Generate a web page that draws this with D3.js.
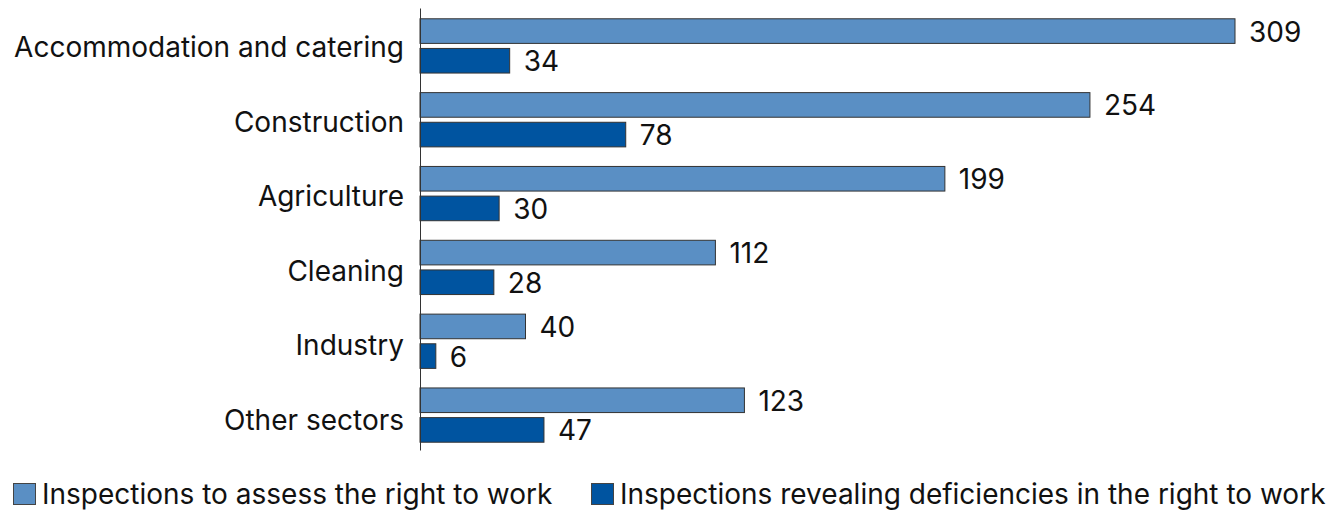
<!DOCTYPE html>
<html>
<head>
<meta charset="utf-8">
<script src="https://cdn.jsdelivr.net/npm/d3@7"></script>
<style>
  html, body { margin: 0; padding: 0; background: #fff; }
  svg { display: block; }
  text { font-family: Inter, "Noto Sans", sans-serif; fill: #111; }
</style>
</head>
<body>
<svg id="chart" width="1338" height="511"></svg>
<script>
const categories = ["Accommodation and catering", "Construction", "Agriculture", "Cleaning", "Industry", "Other sectors"];
const seriesNames = ["Inspections to assess the right to work", "Inspections revealing deficiencies in the right to work"];
const assessed = [309, 254, 199, 112, 40, 123];
const deficiencies = [34, 78, 30, 28, 6, 47];
const seriesColors = ["#5a8fc4", "#0054a0"];

const svg = d3.select("#chart");
const fontSize = 28;

const x = d3.scaleLinear().domain([0, 309]).range([420, 1235]);
const y0 = d3.scaleBand().domain(categories).range([9, 452]);
const y1 = d3.scaleBand().domain([0, 1]).range([0, y0.bandwidth()]).paddingInner(0.17).paddingOuter(0.33);
const labelY = d3.scalePoint().domain(categories).range([57, 430]);

const rows = categories.map((c, i) => ({ cat: c, vals: [assessed[i], deficiencies[i]] }));

const g = svg.append("g");
const groups = g.selectAll("g.cat").data(rows).join("g")
  .attr("class", "cat")
  .attr("transform", d => `translate(0,${y0(d.cat)})`);

groups.selectAll("rect").data(d => d.vals.map((v, k) => ({ v, k }))).join("rect")
  .attr("x", x(0))
  .attr("y", d => y1(d.k))
  .attr("width", d => x(d.v) - x(0))
  .attr("height", y1.bandwidth())
  .attr("fill", d => seriesColors[d.k])
  .attr("stroke", "#333")
  .attr("stroke-width", 1);

groups.selectAll("text.val").data(d => d.vals.map((v, k) => ({ v, k }))).join("text")
  .attr("class", "val")
  .attr("x", d => x(d.v) + 14)
  .attr("y", d => y1(d.k) + y1.bandwidth() / 2 + 10.5)
  .attr("font-size", fontSize)
  .text(d => d.v);

// category labels
g.selectAll("text.cat").data(categories).join("text")
  .attr("class", "cat")
  .attr("x", 404)
  .attr("y", d => labelY(d))
  .attr("text-anchor", "end")
  .attr("font-size", fontSize)
  .text(d => d);

// axis line
const yAxis = d3.axisLeft(d3.scaleLinear().range([8, 450])).ticks(0).tickSize(0);
svg.append("g").attr("transform", `translate(${x(0)},0)`).call(yAxis)
  .call(a => a.select(".domain").attr("stroke", "#333").attr("stroke-width", 1));

// legend
const legendX = [13, 591];
const leg = svg.append("g").selectAll("g").data(seriesNames).join("g")
  .attr("transform", (d, i) => `translate(${legendX[i]},483)`);
leg.append("rect").attr("x", 0.5).attr("y", 0.5).attr("width", 22).attr("height", 21)
  .attr("fill", (d, i) => seriesColors[i]).attr("stroke", "#444").attr("stroke-width", 1);
leg.append("text").attr("x", 29).attr("y", 21).attr("font-size", fontSize).text(d => d);
</script>
</body>
</html>
